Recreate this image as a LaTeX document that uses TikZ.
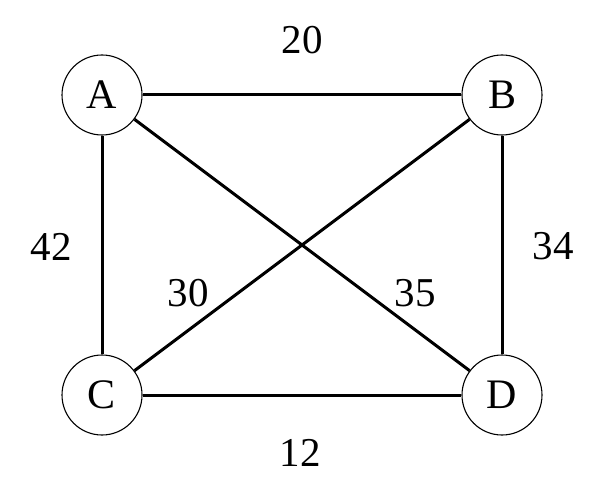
\documentclass[tikz,border=0pt]{standalone}
\usepackage{fontspec}
\setmainfont{Liberation Serif}
\begin{document}
\begin{tikzpicture}[x=1pt,y=-1pt,
  vert/.style={circle,draw,line width=1.1pt,minimum size=80pt,inner sep=0pt,font=\fontsize{42}{44}\selectfont},
  edge/.style={line width=3pt},
  wlabel/.style={font=\fontsize{41}{43}\selectfont}]
\useasboundingbox (0,0) rectangle (593,494);
\node[vert] (A) at (102,95) {A};
\node[vert] (B) at (502,95) {B};
\node[vert] (C) at (102,395) {C};
\node[vert] (D) at (502,395) {D};
\draw[edge] (A) -- (B);
\draw[edge] (A) -- (C);
\draw[edge] (A) -- (D);
\draw[edge] (B) -- (C);
\draw[edge] (B) -- (D);
\draw[edge] (C) -- (D);
\node[wlabel] (l20) at (302,40) {20};
\node[wlabel] (l42) at (51,247) {42};
\node[wlabel] (l34) at (553,246) {34};
\node[wlabel] (l30) at (188,293) {30};
\node[wlabel] (l35) at (415,293) {35};
\node[wlabel] (l12) at (300,453) {12};
\end{tikzpicture}
\end{document}
